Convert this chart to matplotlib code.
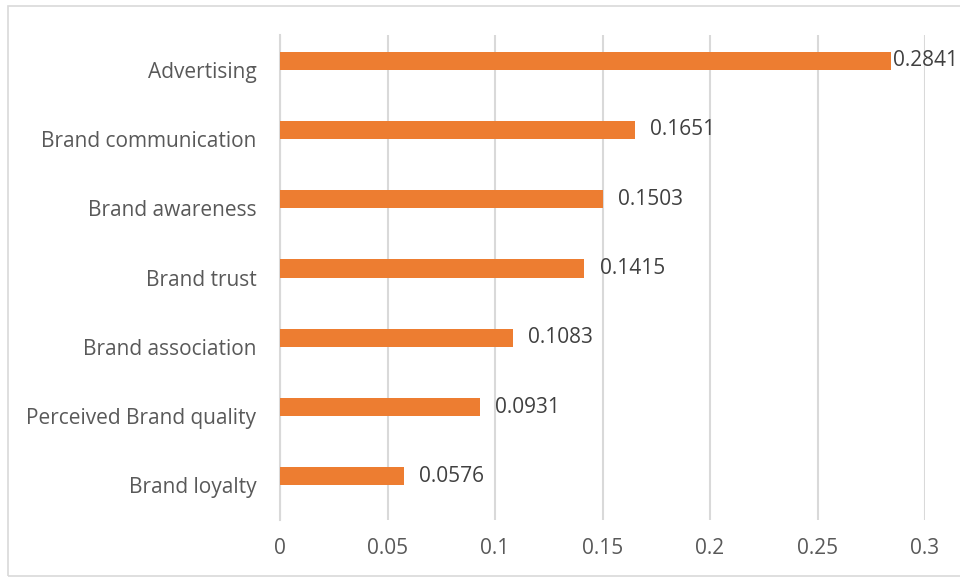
import matplotlib
matplotlib.use("Agg")
import matplotlib.pyplot as plt
from matplotlib.patches import Rectangle

categories = ["Advertising", "Brand communication", "Brand awareness", "Brand trust",
              "Brand association", "Perceived Brand quality", "Brand loyalty"]
values = [0.2841, 0.1651, 0.1503, 0.1415, 0.1083, 0.0931, 0.0576]
xticks = [0, 0.05, 0.1, 0.15, 0.2, 0.25, 0.3]
xticklabels = ["0", "0.05", "0.1", "0.15", "0.2", "0.25", "0.3"]

plt.rcParams['font.family'] = ['Open Sans', 'DejaVu Sans']
txt = "#595959"
fs = 15

fig = plt.figure(figsize=(9.6, 5.78), dpi=100)
ax = fig.add_axes([280/960, 1-520/578, 645/960, 485/578])

fig.patches.append(Rectangle((8/960, 1-576/578), 1.0, 570/578, transform=fig.transFigure,
                             fill=False, edgecolor="#d9d9d9", linewidth=1.2))

n = len(categories)
ypos = list(range(n))[::-1]
bar_shift = 0.13
ax.barh([y + bar_shift for y in ypos], values, height=0.26, color="#ED7D31", zorder=3)

ax.set_xlim(0, 0.3)
ax.set_ylim(-0.5, n - 0.5)
ax.set_xticks(xticks)
ax.set_xticklabels(xticklabels)
ax.set_yticks(ypos)
ax.set_yticklabels(categories)
ax.tick_params(axis="both", length=0, labelsize=fs, labelcolor=txt)
ax.tick_params(axis="x", pad=13)
ax.tick_params(axis="y", pad=17)
ax.xaxis.grid(True, color="#d9d9d9", linewidth=1.5, zorder=0)
ax.set_axisbelow(True)
for s in ["top", "right", "bottom"]:
    ax.spines[s].set_visible(False)
ax.spines["left"].set_color("#d9d9d9")
ax.spines["left"].set_linewidth(1.5)

labels = []
for y, v in zip(ypos, values):
    t = ax.annotate(f"{v:.4f}", xy=(v, y + bar_shift), xytext=(11, 0), textcoords="offset points",
                    va="center", ha="left", fontsize=fs, color="#404040", zorder=4,
                    annotation_clip=False)
    labels.append(t)

fig.canvas.draw()
r = fig.canvas.get_renderer()
W = fig.bbox.width
for t in labels:
    bb = t.get_window_extent(r)
    if bb.x1 > W - 2:
        dx_px = bb.x1 - (W - 2)
        t.xyann = (11 - dx_px * 72 / fig.dpi, 0)

fig.savefig("out.png", dpi=100)
